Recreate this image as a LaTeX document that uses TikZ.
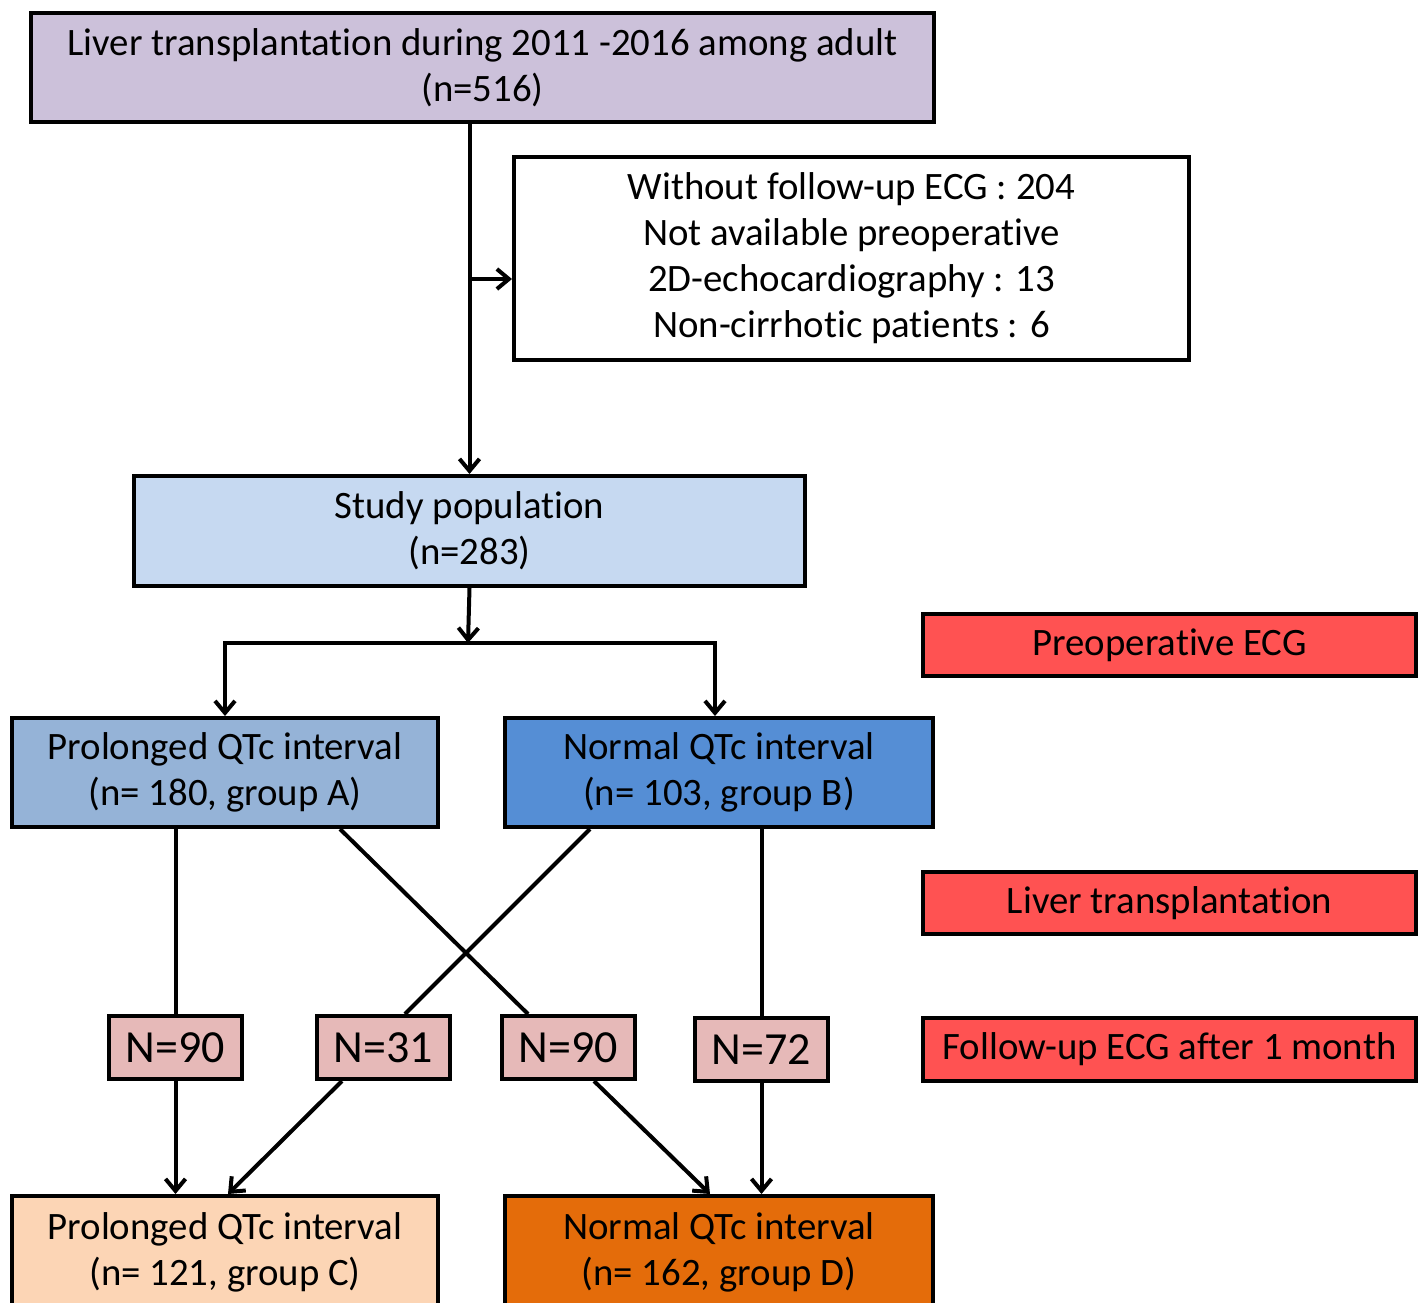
\documentclass[tikz,border=0pt]{standalone}
\usepackage{fontspec}
\setmainfont{Carlito}[RawFeature=-liga]
\usepackage{tikz}
\usetikzlibrary{arrows.meta,positioning,calc}
\definecolor{qlav}{HTML}{CCC1DA}
\definecolor{qsky}{HTML}{C6D9F1}
\definecolor{qblueA}{HTML}{95B3D7}
\definecolor{qblueB}{HTML}{558ED5}
\definecolor{qred}{HTML}{FF5252}
\definecolor{qpink}{HTML}{E6B9B8}
\definecolor{qpeach}{HTML}{FCD5B5}
\definecolor{qorange}{HTML}{E46C0A}

\begin{document}
\begin{tikzpicture}[x=0.5pt, y=-0.5pt, line width=2pt,
  box/.style={draw=black, anchor=north west, inner sep=0pt, align=center,
    font=\fontsize{19.4pt}{23pt}\selectfont},
  phase/.style={box, fill=qred, minimum width=246.5pt, minimum height=31pt},
  count/.style={box, fill=qpink, minimum width=66.5pt, minimum height=31.5pt,
    font=\fontsize{23pt}{26pt}\selectfont},
  arr/.style={-{Straight Barb[length=6pt,width=10pt]}},
]
\useasboundingbox (0,0) rectangle (1419,1302);
\node[box, fill=qlav, minimum width=451.5pt, minimum height=54.5pt] (top) at (29,11)
  {Liver transplantation during 2011 -2016 among adult\\(n=516)};
\node[box, fill=white, minimum width=337.5pt, minimum height=101.5pt] (excl) at (512,155)
  {Without follow-up ECG : 204\\Not available preoperative\\2D-echocardiography : 13\\Non-cirrhotic patients : 6};
\node[box, fill=qsky, minimum width=335.5pt, minimum height=55pt] (study) at (132,474)
  {Study population\\(n=283)};
\node[box, fill=qblueA, minimum width=213pt, minimum height=54.5pt] (grpA) at (10,716)
  {Prolonged QTc interval\\(n= 180, group A)};
\node[box, fill=qblueB, minimum width=214pt, minimum height=54.5pt] (grpB) at (503,716)
  {Normal QTc interval\\(n= 103, group B)};
\node[box, fill=qpeach, minimum width=213pt, minimum height=56pt] (grpC) at (10,1194)
  {Prolonged QTc interval\\(n= 121, group C)};
\node[box, fill=qorange, minimum width=214pt, minimum height=56pt] (grpD) at (503,1194)
  {Normal QTc interval\\(n= 162, group D)};
\node[phase] (preop) at (921,612) {Preoperative ECG};
\node[phase] (ltx) at (921,870) {Liver transplantation};
\node[phase, minimum height=31.5pt] (fuecg) at (921,1016) {Follow-up ECG after 1 month};
\node[count] (nAC) at (107,1014) {N=90};
\node[count] (nBC) at (315,1014) {N=31};
\node[count] (nAD) at (500,1014) {N=90};
\node[count] (nBD) at (693,1016) {N=72};
\coordinate (br) at (468,279);
\coordinate (split) at (468,643);
\draw[arr] (study.north |- top.south) -- (study.north);
\draw[arr] (br) -- (br -| excl.west);
\draw[arr] (study.south) -- (split);
\draw[arr] (split) -| (grpA.north);
\draw[arr] (split) -| ($(grpB.north)+(-4,0)$);
\draw (nAC.north |- grpA.south) -- (nAC.north);
\draw ($(grpA.south west)+(330,0)$) -- ($(nAD.north west)+(28,0)$);
\draw ($(grpB.south west)+(87,0)$) -- ($(nBC.north west)+(90,0)$);
\draw (nBD.north |- grpB.south) -- (nBD.north);
\draw[arr] (nAC.south) -- (nAC.south |- grpC.north);
\draw[arr] ($(nBC.south west)+(27,0)$) -- ($(grpC.north)+(3,0)$);
\draw[arr] ($(nAD.south west)+(94,0)$) -- ($(grpD.north)+(-9,0)$);
\draw[arr] (nBD.south) -- (nBD.south |- grpD.north);
\end{tikzpicture}
\end{document}
